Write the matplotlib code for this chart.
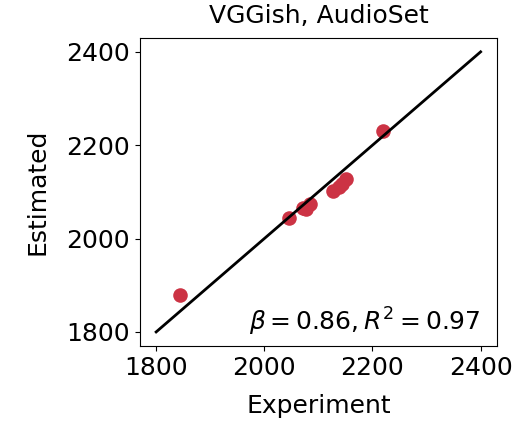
import matplotlib
matplotlib.use("Agg")
import matplotlib.pyplot as plt

experiment = [1845, 2046, 2072, 2078, 2085, 2127, 2138, 2143, 2151, 2220]
estimated = [1880, 2044, 2066, 2063, 2073, 2102, 2110, 2116, 2127, 2230]
line_x = [1800, 2400]
ticks = [1800, 2000, 2200, 2400]

fig = plt.figure(figsize=(5.28, 4.25), dpi=100)
ax = fig.add_axes([0.265, 0.186, 0.676, 0.725])
ax.scatter(experiment, estimated, s=110, color="#cc3344", zorder=2, linewidths=0)
ax.plot(line_x, line_x, color="black", lw=2, zorder=3)
ax.set_xlim(1770, 2430)
ax.set_ylim(1770, 2430)
ax.set_xticks(ticks)
ax.set_yticks(ticks)
ax.tick_params(labelsize=18)
ax.set_xlabel("Experiment", fontsize=18, labelpad=10)
ax.set_ylabel("Estimated", fontsize=18, labelpad=12)
ax.set_title("VGGish, AudioSet", fontsize=18, pad=11)
ax.text(0.955, 0.025, r"$\beta = 0.86, R^2 = 0.97$", transform=ax.transAxes,
        ha="right", va="bottom", fontsize=18)
fig.savefig("out.png", dpi=100)
